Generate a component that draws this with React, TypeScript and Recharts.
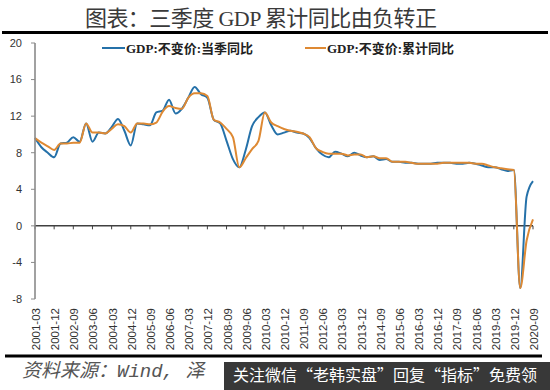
import React from 'react';
import { LineChart, Line, XAxis, YAxis, ReferenceLine } from 'recharts';

const quarters: string[] = [
  '2001-03', '2001-06', '2001-09', '2001-12',
  '2002-03', '2002-06', '2002-09', '2002-12',
  '2003-03', '2003-06', '2003-09', '2003-12',
  '2004-03', '2004-06', '2004-09', '2004-12',
  '2005-03', '2005-06', '2005-09', '2005-12',
  '2006-03', '2006-06', '2006-09', '2006-12',
  '2007-03', '2007-06', '2007-09', '2007-12',
  '2008-03', '2008-06', '2008-09', '2008-12',
  '2009-03', '2009-06', '2009-09', '2009-12',
  '2010-03', '2010-06', '2010-09', '2010-12',
  '2011-03', '2011-06', '2011-09', '2011-12',
  '2012-03', '2012-06', '2012-09', '2012-12',
  '2013-03', '2013-06', '2013-09', '2013-12',
  '2014-03', '2014-06', '2014-09', '2014-12',
  '2015-03', '2015-06', '2015-09', '2015-12',
  '2016-03', '2016-06', '2016-09', '2016-12',
  '2017-03', '2017-06', '2017-09', '2017-12',
  '2018-03', '2018-06', '2018-09', '2018-12',
  '2019-03', '2019-06', '2019-09', '2019-12',
  '2020-03', '2020-06', '2020-09',
];

// GDP:不变价:当季同比
const quarterlyYoY: number[] = [
  9.6, 8.6, 8.0, 7.5,
  9.0, 9.1, 9.7, 9.2,
  11.2, 9.2, 10.2, 10.1,
  10.8, 11.7, 10.4, 8.8,
  11.2, 11.1, 11.0, 12.4,
  12.6, 13.8, 12.3, 12.8,
  14.0, 15.2, 14.4, 14.0,
  11.6, 11.2, 9.3, 7.3,
  6.4, 8.3, 10.9, 11.9,
  12.4, 11.0, 10.0, 10.2,
  10.4, 10.2, 10.1, 9.6,
  8.5, 7.8, 7.5, 8.1,
  7.9, 7.6, 8.0, 7.7,
  7.5, 7.6, 7.2, 7.3,
  7.0, 7.0, 6.9, 6.9,
  6.8, 6.8, 6.8, 6.9,
  6.9, 6.9, 6.8, 6.8,
  6.9, 6.8, 6.6, 6.4,
  6.4, 6.2, 6.0, 6.1,
  -6.8, 3.2, 4.9,
];

// GDP:不变价:累计同比
const cumulativeYoY: number[] = [
  9.6, 9.1, 8.7, 8.3,
  9.0, 9.0, 9.1, 9.1,
  11.2, 10.2, 10.2, 10.1,
  10.6, 11.1, 10.9, 10.2,
  11.2, 11.2, 11.1, 11.3,
  12.5, 13.1, 12.9, 12.8,
  14.0, 14.5, 14.5, 14.2,
  11.6, 11.3, 10.6, 9.7,
  6.4, 7.4, 8.4, 9.3,
  12.4, 11.3, 10.9, 10.6,
  10.4, 10.3, 10.1, 9.7,
  8.5, 8.1, 7.9, 7.9,
  7.9, 7.7, 7.8, 7.8,
  7.5, 7.6, 7.4, 7.4,
  7.0, 7.0, 7.0, 6.9,
  6.8, 6.8, 6.8, 6.8,
  6.9, 6.9, 6.9, 6.9,
  6.9, 6.8, 6.8, 6.6,
  6.4, 6.3, 6.2, 6.1,
  -6.8, -1.6, 0.7,
];

const yTicks: number[] = [-8, -4, 0, 4, 8, 12, 16, 20];
const seriesNames: string[] = ['GDP:不变价:当季同比', 'GDP:不变价:累计同比'];
const seriesColors: string[] = ['#2571A9', '#DE8933'];

const titleText = '图表：三季度 GDP 累计同比由负转正';
const sourceText = '资料来源：Wind, 泽';
const bannerText = '关注微信“老韩实盘”回复“指标”免费领';

const data = quarters.map((q, i) => ({
  q,
  a: quarterlyYoY[i],
  b: cumulativeYoY[i],
}));

const labeledQuarters = quarters.filter((_, i) => i % 3 === 0);

const XTick = (props: any) => {
  const { x, y, payload } = props;
  return (
    <text
      x={x}
      y={y}
      transform={`rotate(-90, ${x}, ${y})`}
      textAnchor="end"
      dy={5}
      fontSize={11.5}
      fontFamily="'Liberation Sans', Arial, sans-serif"
      fill="#333"
    >
      {payload.value}
    </text>
  );
};

export default function App() {
  return (
    <div
      style={{
        position: 'absolute',
        top: 0,
        left: 0,
        width: 550,
        height: 390,
        background: '#fff',
        overflow: 'hidden',
      }}
    >
      <LineChart
        width={550}
        height={390}
        data={data}
        margin={{ top: 43, right: 17, bottom: 41, left: 0 }}
      >
        <XAxis
          dataKey="q"
          interval={2}
          axisLine={false}
          tickLine={false}
          tickSize={0}
          tickMargin={9}
          height={50}
          tick={<XTick />}
        />
        <YAxis
          domain={[-8, 20]}
          ticks={yTicks}
          width={35}
          tickSize={4}
          tickMargin={9}
          axisLine={{ stroke: '#8a8a8a', strokeWidth: 1.6 }}
          tickLine={{ stroke: '#8a8a8a' }}
          tick={{ fontSize: 11, fill: '#333', fontFamily: "'Liberation Sans', Arial, sans-serif" }}
          allowDataOverflow
        />
        <ReferenceLine y={0} stroke="#404040" strokeWidth={1.5} />
        {labeledQuarters.map((q) => (
          <ReferenceLine
            key={q}
            segment={[
              { x: q, y: 0 },
              { x: q, y: -0.38 },
            ]}
            stroke="#404040"
            strokeWidth={1}
            ifOverflow="visible"
          />
        ))}
        <Line
          type="monotone"
          dataKey="a"
          name={seriesNames[0]}
          stroke={seriesColors[0]}
          strokeWidth={2}
          dot={false}
          isAnimationActive={false}
        />
        <Line
          type="monotone"
          dataKey="b"
          name={seriesNames[1]}
          stroke={seriesColors[1]}
          strokeWidth={2}
          dot={false}
          isAnimationActive={false}
        />
      </LineChart>
      <svg
        width={550}
        height={390}
        style={{ position: 'absolute', top: 0, left: 0, pointerEvents: 'none' }}
      >
        <text
          x={85}
          y={26}
          fontSize={22}
          textLength={352}
          lengthAdjust="spacing"
          fontFamily="'Liberation Serif', 'Noto Sans CJK SC', serif"
          fill="#3a3a3a"
        >
          {titleText}
        </text>
        <rect x={2} y={31} width={546} height={3} fill="#000" />

        <line x1={102} y1={48} x2={125} y2={48} stroke={seriesColors[0]} strokeWidth={2} />
        <text
          x={126}
          y={52.5}
          fontSize={13}
          fontWeight="bold"
          fontFamily="'Liberation Serif', 'Noto Sans CJK SC', serif"
          fill="#222"
        >
          {seriesNames[0]}
        </text>
        <line x1={305} y1={48} x2={326} y2={48} stroke={seriesColors[1]} strokeWidth={2} />
        <text
          x={327}
          y={52.5}
          fontSize={13}
          fontWeight="bold"
          fontFamily="'Liberation Serif', 'Noto Sans CJK SC', serif"
          fill="#222"
        >
          {seriesNames[1]}
        </text>

        <rect x={5} y={354.5} width={537} height={3} fill="#000" />
        <text
          x={22}
          y={376.5}
          fontSize={19}
          fontStyle="italic"
          fontFamily="'Liberation Mono', 'Noto Sans CJK SC', monospace"
          fill="#555"
        >
          {sourceText}
        </text>
        <rect x={224} y={362} width={326} height={28} fill="#383838" />
        <text
          x={233}
          y={381}
          fontSize={16}
          fontFamily="'Noto Sans CJK SC', sans-serif"
          fill="#fff"
        >
          {bannerText}
        </text>
      </svg>
    </div>
  );
}
